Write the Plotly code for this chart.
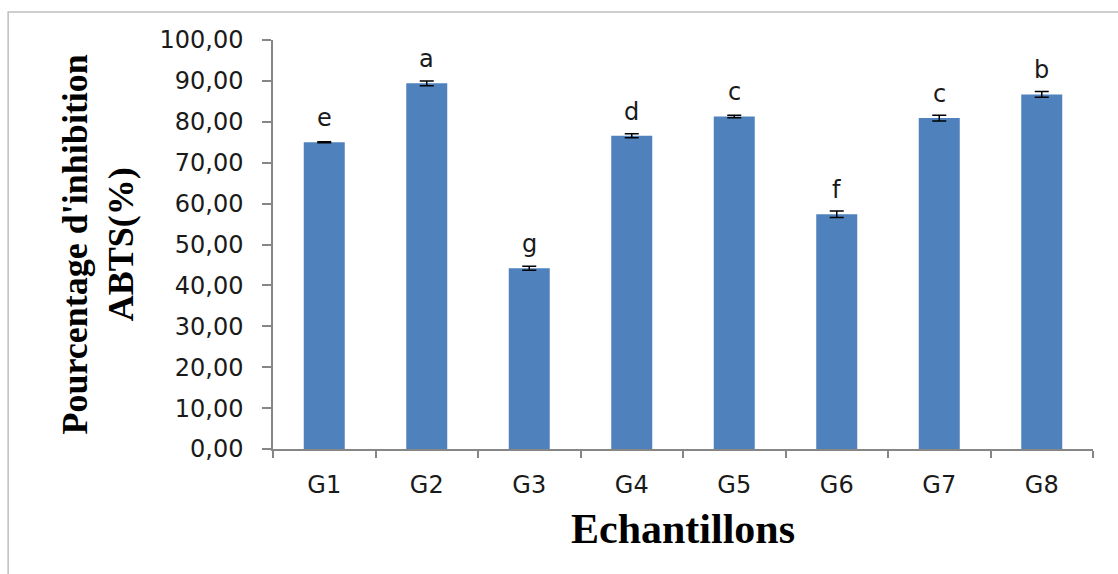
import plotly.graph_objects as go

# Samples, ABTS inhibition (%) with standard deviations and significance letters
samples = ["G1", "G2", "G3", "G4", "G5", "G6", "G7", "G8"]
inhibition = [75.0, 89.4, 44.2, 76.6, 81.3, 57.4, 80.9, 86.7]
std_dev = [0.1, 0.6, 0.5, 0.5, 0.3, 0.8, 0.7, 0.7]
letters = ["e", "a", "g", "d", "c", "f", "c", "b"]
y_ticks = [0, 10, 20, 30, 40, 50, 60, 70, 80, 90, 100]

axis_grey = "#868686"
bar_blue = "#4F81BD"
text_col = "#1a1a1a"

fig = go.Figure()
fig.add_trace(go.Bar(
    x=samples,
    y=inhibition,
    marker=dict(color=bar_blue, line=dict(width=0)),
    error_y=dict(type="data", array=std_dev, visible=True,
                 color="black", thickness=1.5, width=7),
    showlegend=False,
))

# Significance letters above each bar
for s, v, lab in zip(samples, inhibition, letters):
    fig.add_annotation(
        x=s, y=v, text=lab, showarrow=False,
        xanchor="center", yanchor="bottom", yshift=8,
        font=dict(family="DejaVu Sans", size=24, color=text_col),
    )

# Axis titles
fig.add_annotation(
    xref="paper", yref="paper", x=0, y=0.5,
    text="<b>Pourcentage d'inhibition<br>ABTS(%)</b>",
    textangle=-90, showarrow=False,
    xanchor="center", yanchor="middle", xshift=-175,
    font=dict(family="Liberation Serif", size=36, color="black"),
)
fig.add_annotation(
    xref="paper", yref="paper", x=0.5, y=0,
    text="<b>Echantillons</b>", showarrow=False,
    xanchor="center", yanchor="middle", yshift=-80,
    font=dict(family="Liberation Serif", size=42, color="black"),
)

# Outer chart frame
fig.add_shape(
    type="rect", xref="paper", yref="paper",
    x0=-0.323, x1=1.04, y0=-0.35, y1=1.0685,
    line=dict(color="#bfbfbf", width=1.5), fillcolor="rgba(0,0,0,0)",
    layer="below",
)

fig.update_layout(
    width=1118, height=574,
    margin=dict(l=273, r=25, t=40, b=125),
    paper_bgcolor="white", plot_bgcolor="white",
    bargap=0.6,
    separators=", ",
    font=dict(family="DejaVu Sans", size=24, color=text_col),
)
fig.update_xaxes(
    showline=True, linecolor=axis_grey, linewidth=1.5,
    ticks="outside", tickson="boundaries", ticklen=7, tickcolor=axis_grey,
    tickwidth=1.5, showgrid=False, ticklabelstandoff=13,
    tickfont=dict(family="DejaVu Sans", size=24, color=text_col),
)
fig.update_yaxes(
    range=[0, 100], tickvals=y_ticks, tickformat=".2f",
    showline=True, linecolor=axis_grey, linewidth=1.5,
    ticks="outside", ticklen=9, tickcolor=axis_grey, tickwidth=1.5,
    showgrid=False, zeroline=False, ticklabelstandoff=14,
    tickfont=dict(family="DejaVu Sans", size=24, color=text_col),
)

fig.write_html("out.html")
